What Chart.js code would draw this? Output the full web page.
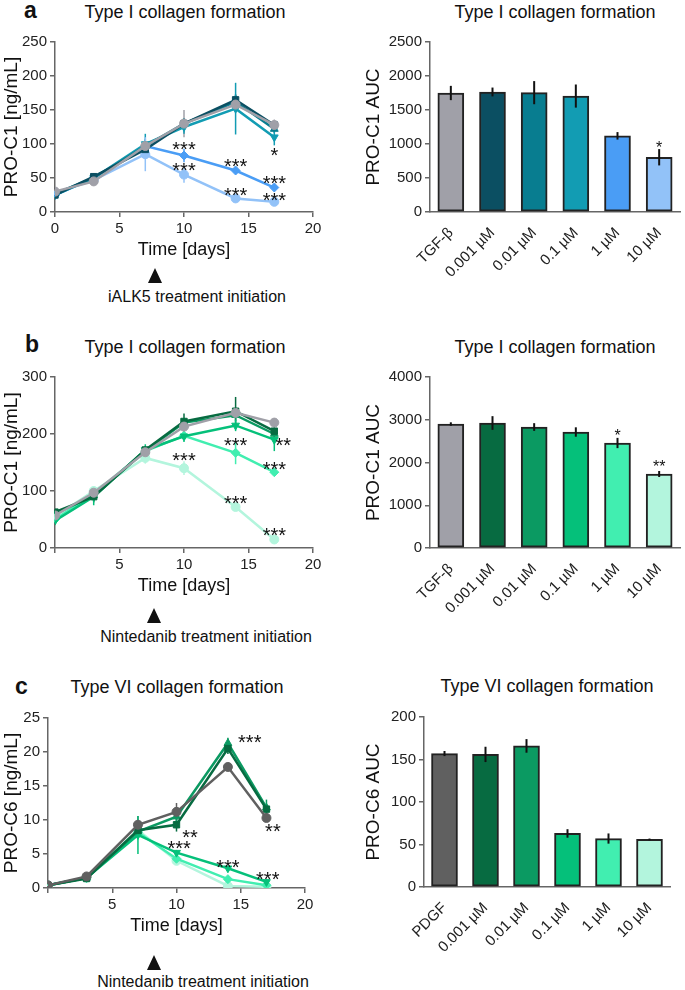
<!DOCTYPE html>
<html>
<head>
<meta charset="utf-8">
<script src="https://cdn.jsdelivr.net/npm/chart.js@4.4.0/dist/chart.umd.min.js"></script>
<style>
body { margin: 0; background: #fff; font-family: "Liberation Sans", Arial, sans-serif; color: #111; }
#fig { position: relative; width: 685px; height: 990px; overflow: hidden; }
canvas { position: absolute; }
.t { position: absolute; transform: translate(-50%, -50%); white-space: nowrap; font-size: 18px; }
.note { position: absolute; transform: translate(-50%, -50%); white-space: nowrap; font-size: 16px; }
.lt { position: absolute; transform: translateY(-50%); font-weight: bold; font-size: 23px; }
.tri { position: absolute; width: 0; height: 0; transform: translateX(-50%);
       border-left: 7px solid transparent; border-right: 7px solid transparent; border-bottom: 15px solid #111; }
</style>
</head>
<body>
<div id="fig">
  <div class="lt" style="left:24px; top:10px;">a</div>
  <div class="t" style="left:185px; top:12px;">Type I collagen formation</div>
  <div class="t" style="left:555px; top:12px;">Type I collagen formation</div>
  <div class="tri" style="left:155px; top:268px;"></div>
  <div class="note" style="left:197px; top:297px;">iALK5 treatment initiation</div>

  <div class="lt" style="left:25px; top:344px;">b</div>
  <div class="t" style="left:185px; top:347px;">Type I collagen formation</div>
  <div class="t" style="left:555px; top:347px;">Type I collagen formation</div>
  <div class="tri" style="left:154px; top:608px;"></div>
  <div class="note" style="left:206px; top:637px;">Nintedanib treatment initiation</div>

  <div class="lt" style="left:15px; top:686px;">c</div>
  <div class="t" style="left:177px; top:687px;">Type VI collagen formation</div>
  <div class="t" style="left:547px; top:686px;">Type VI collagen formation</div>
  <div class="tri" style="left:154px; top:955px;"></div>
  <div class="note" style="left:203px; top:982px;">Nintedanib treatment initiation</div>

  <canvas id="lineA" width="330" height="235" style="left:0; top:30px;"></canvas>
  <canvas id="barA" width="345" height="290" style="left:340px; top:30px;"></canvas>
  <canvas id="lineB" width="330" height="236" style="left:0; top:365px;"></canvas>
  <canvas id="barB" width="345" height="290" style="left:340px; top:365px;"></canvas>
  <canvas id="lineC" width="330" height="235" style="left:0; top:706px;"></canvas>
  <canvas id="barC" width="345" height="285" style="left:340px; top:705px;"></canvas>
</div>
<script>
// time points (days)
const days = [0, 3, 7, 10, 14, 17];

// panel a - iALK5
const groupsA = ['TGF-β', '0.001 µM', '0.01 µM', '0.1 µM', '1 µM', '10 µM'];
const colorsA = ['#a0a0a8', '#0b4f62', '#087d90', '#129cb3', '#4a9df5', '#92c2f8'];
const aTgf  = [30, 45, 97, 130, 158, 128];
const a0001 = [25, 52, 92, 130, 165, 128];
const a001  = [27, 50, 97, 130, 162, 122];
const a01   = [25, 50, 100, 125, 152, 110];
const a1    = [25, 50, 97, 83, 61, 36];
const a10   = [28, 47, 85, 55, 20, 15];
const aTgfErr  = [3, 3, 8, 20, 10, 8];
const a0001Err = [3, 3, 5, 5, 8, 5];
const a001Err  = [3, 3, 10, 8, 10, 6];
const a01Err   = [4, 4, 15, 10, 38, 12];
const a1Err    = [3, 3, 5, 10, 4, 3];
const a10Err   = [3, 3, 25, 12, 3, 2];
const aucA    = [1750, 1765, 1755, 1705, 1120, 805];
const aucAErr = [105, 65, 170, 170, 55, 120];
const starsLineA = [
  {x: 10, y: 100, text: '***'}, {x: 10, y: 68, text: '***'},
  {x: 14, y: 75, text: '***'}, {x: 14, y: 31, text: '***'},
  {x: 17, y: 91, text: '*'}, {x: 17, y: 50, text: '***'}, {x: 17, y: 25, text: '***'}
];
const starsBarA = [{x: 5, y: 1000, text: '*'}];

// panel b - nintedanib, PRO-C1
const groupsB = ['TGF-β', '0.001 µM', '0.01 µM', '0.1 µM', '1 µM', '10 µM'];
const colorsB = ['#a0a0a8', '#076b41', '#0b9a62', '#05c07a', '#41eeb0', '#b3f5dd'];
const bTgf  = [57, 97, 168, 213, 237, 220];
const b0001 = [63, 90, 172, 222, 240, 205];
const b001  = [60, 92, 170, 220, 233, 200];
const b01   = [48, 90, 172, 196, 215, 190];
const b1    = [50, 95, 170, 197, 167, 133];
const b10   = [55, 100, 158, 140, 72, 15];
const bTgfErr  = [5, 8, 6, 8, 10, 8];
const b0001Err = [5, 10, 6, 14, 25, 8];
const b001Err  = [5, 10, 6, 8, 10, 8];
const b01Err   = [5, 15, 10, 10, 10, 20];
const b1Err    = [5, 8, 8, 8, 20, 4];
const b10Err   = [5, 8, 10, 12, 5, 3];
const aucB    = [2900, 2924, 2830, 2713, 2456, 1731];
const aucBErr = [40, 160, 90, 110, 120, 70];
const starsLineB = [
  {x: 10, y: 163, text: '***'}, {x: 14, y: 189, text: '***'},
  {x: 17.7, y: 189, text: '**'}, {x: 17, y: 146, text: '***'},
  {x: 14, y: 86, text: '***'}, {x: 17, y: 30, text: '***'}
];
const starsBarB = [{x: 4, y: 2713, text: '*'}, {x: 5, y: 1988, text: '**'}];

// panel c - nintedanib, PRO-C6
const groupsC = ['PDGF', '0.001 µM', '0.01 µM', '0.1 µM', '1 µM', '10 µM'];
const colorsC = ['#606060', '#076b41', '#0b9a62', '#05c07a', '#41eeb0', '#b3f5dd'];
const cPdgf = [0.4, 1.7, 9.3, 11.2, 17.8, 10.3];
const c0001 = [0.4, 1.4, 8.5, 9.3, 20.5, 11.6];
const c001  = [0.4, 1.5, 8.3, 10.5, 21.3, 11.8];
const c01   = [0.4, 1.5, 7.8, 5.2, 2.9, 0.9];
const c1    = [0.4, 1.5, 8.2, 4.3, 1.3, 0.4];
const c10   = [0.4, 1.5, 8.5, 4.0, 0.3, 0.2];
const cPdgfErr = [0.1, 0.2, 1.3, 1.3, 0.5, 0.5];
const c0001Err = [0.1, 0.2, 1.0, 1.0, 0.8, 0.8];
const c001Err  = [0.1, 0.2, 1.0, 1.0, 0.8, 1.2];
const c01Err   = [0.1, 0.2, 2.8, 0.4, 0.3, 0.3];
const c1Err    = [0.1, 0.2, 1.0, 0.4, 0.2, 0.1];
const c10Err   = [0.1, 0.2, 0.8, 0.3, 0.1, 0.1];
const aucC    = [157, 156, 166, 63, 57, 56];
const aucCErr = [3, 9, 8, 5, 6, 1];
const starsLineC = [
  {x: 15.7, y: 22.2, text: '***'}, {x: 11.05, y: 8.2, text: '**'},
  {x: 10.2, y: 6.5, text: '***'}, {x: 14, y: 3.8, text: '***'},
  {x: 17.1, y: 2.0, text: '***'}, {x: 17.5, y: 9.0, text: '**'}
];

const FONT = '"Liberation Sans", Arial, sans-serif';
const markers = ['circle', 'rect', 'triangle', 'triangle', 'rectRot', 'circle'];
const rotations = [0, 0, 0, 180, 0, 0];

// vertical error bars, drawn from the dataset's errors through the y scale
const errorBars = {
  id: 'errbars',
  beforeDatasetsDraw(chart, args, opts) {
    if (opts.onTop) return;
    drawErrors(chart, opts);
  },
  afterDatasetsDraw(chart, args, opts) {
    if (opts.onTop) drawErrors(chart, opts);
  }
};
function drawErrors(chart, opts) {
  const ctx = chart.ctx;
  const y = chart.scales.y;
  chart.data.datasets.forEach((ds, i) => {
    if (!ds.errors) return;
    const meta = chart.getDatasetMeta(i);
    ctx.save();
    ctx.strokeStyle = opts.color || ds.borderColor;
    ctx.lineWidth = opts.width || 1.5;
    meta.data.forEach((el, j) => {
      const v = ds.values[j], e = ds.errors[j];
      ctx.beginPath();
      ctx.moveTo(el.x, y.getPixelForValue(v - e));
      ctx.lineTo(el.x, y.getPixelForValue(v + e));
      ctx.stroke();
    });
    ctx.restore();
  });
}

// significance stars at data positions
const stars = {
  id: 'stars',
  afterDatasetsDraw(chart, args, opts) {
    const {ctx, scales: {x, y}} = chart;
    ctx.save();
    ctx.font = opts.size + 'px ' + FONT;
    ctx.fillStyle = '#111';
    ctx.textAlign = 'center';
    ctx.textBaseline = 'middle';
    (opts.marks || []).forEach(m => {
      ctx.fillText(m.text, x.getPixelForValue(m.x), y.getPixelForValue(m.y) + opts.shift);
    });
    ctx.restore();
  }
};

Chart.register(errorBars, stars);
Chart.defaults.font.family = FONT;
Chart.defaults.color = '#222';

function yAxis(max, step, title, width) {
  return {
    min: 0, max: max,
    ticks: { stepSize: step, font: { size: 15 }, color: '#222', padding: 3, callback: v => String(v) },
    grid: { drawOnChartArea: false, drawTicks: true, tickLength: 5, color: '#666', lineWidth: 1.5 },
    border: { color: '#666', width: 1.5 },
    title: { display: true, text: title, font: { size: 19 }, color: '#111', padding: { top: 0, bottom: 4 } },
    afterFit: s => { s.width = width; }
  };
}

function lineChart(id, series, errs, colors, yMax, yStep, yTitle, marks, hideZero, yWidth, padRight) {
  const datasets = series.map((vals, i) => ({
    data: days.map((d, j) => ({x: d, y: vals[j]})),
    values: vals,
    errors: errs[i],
    borderColor: colors[i],
    backgroundColor: colors[i],
    borderWidth: 2.5,
    pointStyle: markers[i],
    pointRotation: rotations[i],
    pointRadius: 4.5,
    pointBorderWidth: 1,
    tension: 0
  }));
  new Chart(document.getElementById(id), {
    type: 'line',
    data: { datasets: datasets },
    options: {
      responsive: false,
      animation: false,
      layout: { padding: { left: 0, top: 12, right: padRight, bottom: 0 } },
      plugins: {
        legend: { display: false }, tooltip: { enabled: false },
        errbars: { width: 1.5 },
        stars: { marks: marks, size: 20, shift: 6 }
      },
      scales: {
        x: {
          type: 'linear', min: 0, max: 20,
          ticks: { stepSize: 5, font: { size: 15 }, color: '#222', padding: 3,
                   callback: v => (hideZero && v === 0) ? '' : String(v) },
          grid: { drawOnChartArea: false, drawTicks: true, tickLength: 5, color: '#666', lineWidth: 1.5 },
          border: { color: '#666', width: 1.5 },
          title: { display: true, text: 'Time [days]', font: { size: 18 }, color: '#111' },
          afterFit: s => { s.height = 53; }
        },
        y: yAxis(yMax, yStep, yTitle, yWidth)
      }
    }
  });
}

function barChart(id, labels, vals, errs, colors, yMax, yStep, yTitle, marks, yWidth, padRight, xHeight) {
  new Chart(document.getElementById(id), {
    type: 'bar',
    data: {
      labels: labels,
      datasets: [{
        data: vals, values: vals, errors: errs,
        backgroundColor: colors, borderColor: '#222', borderWidth: 2,
        barThickness: 26, borderSkipped: false
      }]
    },
    options: {
      responsive: false,
      animation: false,
      layout: { padding: { left: 22, top: 12, right: padRight, bottom: 0 } },
      plugins: {
        legend: { display: false }, tooltip: { enabled: false },
        errbars: { onTop: true, color: '#111', width: 2 },
        stars: { marks: marks, size: 16, shift: 5 }
      },
      scales: {
        x: {
          ticks: { font: { size: 15 }, color: '#222', minRotation: 45, maxRotation: 45, autoSkip: false, padding: 12 },
          grid: { display: false, drawTicks: false },
          border: { color: '#666', width: 1.5 },
          afterFit: s => { s.height = xHeight; }
        },
        y: yAxis(yMax, yStep, yTitle, yWidth)
      }
    }
  });
}

lineChart('lineA', [aTgf, a0001, a001, a01, a1, a10],
  [aTgfErr, a0001Err, a001Err, a01Err, a1Err, a10Err], colorsA,
  250, 50, 'PRO-C1 [ng/mL]', starsLineA, false, 55, 17);
barChart('barA', groupsA, aucA, aucAErr, colorsA, 2500, 500, 'PRO-C1 AUC', starsBarA, 68, 5, 108);

lineChart('lineB', [bTgf, b0001, b001, b01, b1, b10],
  [bTgfErr, b0001Err, b001Err, b01Err, b1Err, b10Err], colorsB,
  300, 100, 'PRO-C1 [ng/mL]', starsLineB, true, 55, 17);
barChart('barB', groupsB, aucB, aucBErr, colorsB, 4000, 1000, 'PRO-C1 AUC', starsBarB, 68, 5, 107);

lineChart('lineC', [cPdgf, c0001, c001, c01, c1, c10],
  [cPdgfErr, c0001Err, c001Err, c01Err, c1Err, c10Err], colorsC,
  25, 5, 'PRO-C6 [ng/mL]', starsLineC, true, 48, 25);
barChart('barC', groupsC, aucC, aucCErr, colorsC, 200, 50, 'PRO-C6 AUC', [], 62, 15, 103);
</script>
</body>
</html>
